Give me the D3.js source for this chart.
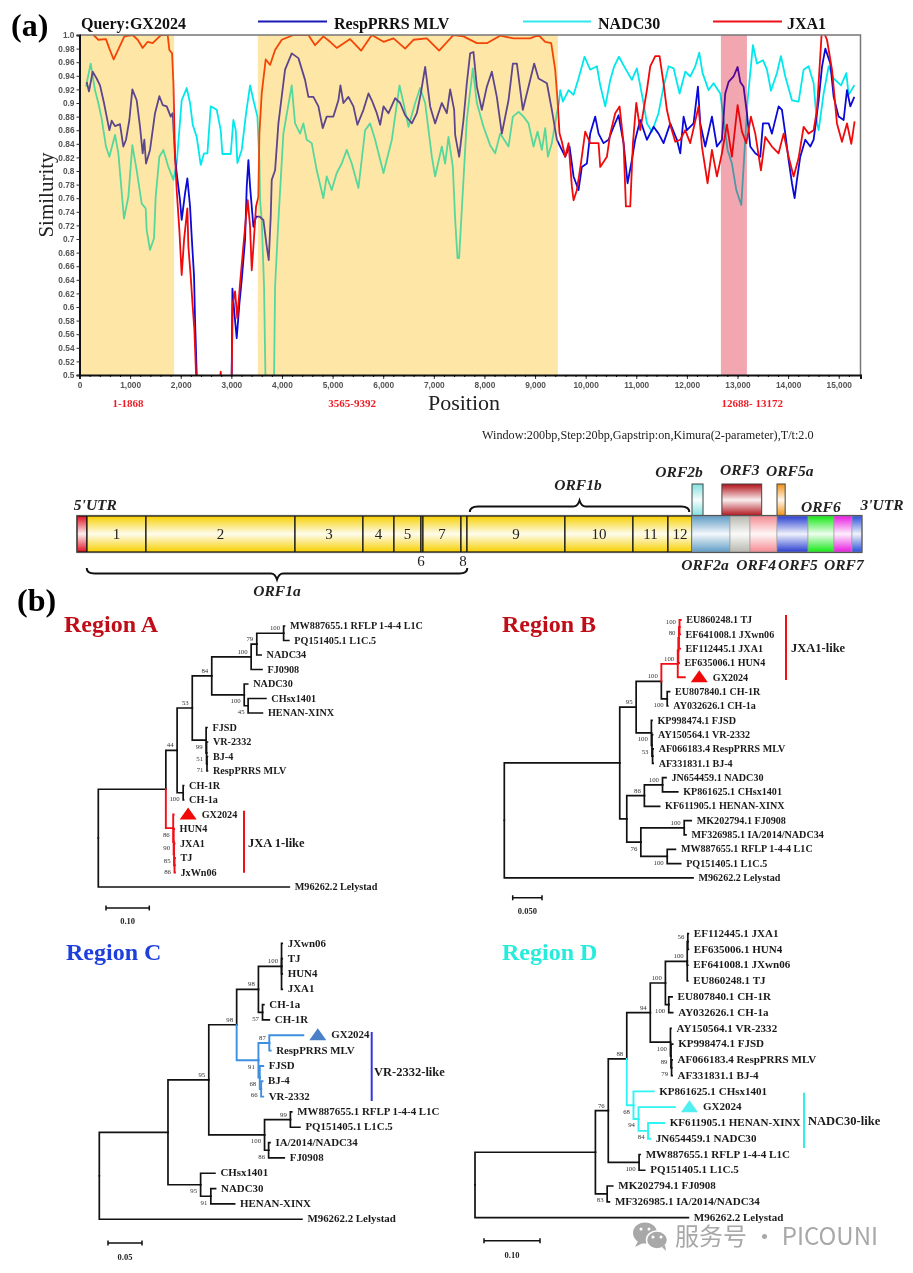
<!DOCTYPE html>
<html><head><meta charset="utf-8">
<script src="https://cdnjs.cloudflare.com/ajax/libs/d3/7.8.5/d3.min.js"></script>
<style>html,body{margin:0;background:#fff}svg{display:block;filter:blur(.35px)}</style></head>
<body><svg id="c" width="913" height="1273"></svg>
<script>
// ---------- similarity plot data: [position, similarity] ----------
const respMLV=[[142,.931],[188,.917],[260,.946],[339,.936],[405,.926],[484,.9],[537,.88],[590,.86],[636,.874],[702,.866],[800,.869],[866,.836],[919,.846],[985,.875],[1044,.92],[1130,.904],[1196,.865],[1248,.826],[1281,.846],[1314,.811],[1393,.831],[1492,.885],[1578,.91],[1644,.897],[1723,.895],[1802,.88],[1841,.885],[1887,.821],[1920,.797],[1986,.757],[2019,.728],[2085,.767],[2131,.789],[2184,.748],[2217,.703],[2263,.645],[2283,.581],[2316,.5],[2400,.45],[2980,.45],[3007,.5],[3021,.627],[3060,.591],[3106,.554],[3159,.605],[3205,.64],[3271,.699],[3304,.777],[3337,.816],[3370,.777],[3436,.718],[3488,.733],[3554,.733],[3633,.728],[3699,.689],[3739,.669],[3778,.733],[3798,.787],[3864,.801],[3930,.87],[4061,.949],[4193,.973],[4325,.966],[4456,.934],[4522,.909],[4621,.909],[4720,.895],[4805,.863],[4884,.88],[5016,.88],[5115,.904],[5155,.926],[5214,.9],[5313,.909],[5412,.895],[5491,.868],[5610,.89],[5709,.914],[5775,.904],[5874,.885],[5940,.868],[6006,.895],[6105,.885],[6237,.907],[6335,.9],[6434,.882],[6566,.87],[6664,.885],[6743,.914],[6829,.953],[6928,.895],[7026,.87],[7158,.9],[7257,.885],[7323,.92],[7402,.89],[7422,.853],[7501,.821],[7586,.875],[7652,.929],[7718,.973],[7784,.975],[7850,.924],[7949,.89],[8048,.924],[8146,.946],[8245,.909],[8344,.855],[8476,.904],[8562,.958],[8641,.958],[8759,.89],[8871,.924],[8983,.958],[9069,.936],[9234,.929],[9332,.89],[9431,.846],[9530,.831],[9596,.821],[9682,.836],[9761,.792],[9859,.772],[9925,.806],[10024,.811],[10090,.855],[10189,.88],[10255,.855],[10353,.841],[10452,.846],[10551,.865],[10650,.882],[10749,.841],[10828,.782],[10913,.816],[10979,.846],[11078,.875],[11210,.846],[11342,.865],[11440,.855],[11539,.841],[11671,.87],[11803,.846],[11869,.826],[11935,.88],[12000,.86],[12132,.87],[12218,.924],[12264,.87],[12363,.836],[12495,.88],[12593,.836],[12692,.846],[12758,.914],[12824,.931],[12923,.939],[13002,.953],[13055,.931],[13120,.924],[13186,.885],[13252,.836],[13351,.826],[13450,.821],[13503,.87],[13615,.87],[13680,.855],[13812,.895],[13878,.89],[13944,.855],[14010,.816],[14076,.782],[14128,.76],[14174,.787],[14240,.821],[14339,.846],[14438,.836],[14504,.846],[14603,.904],[14669,.953],[14735,.98],[14834,.958],[14900,.909],[14998,.88],[15097,.875],[15163,.919],[15229,.895],[15308,.909]];
const nadc30=[[128,.924],[221,.958],[306,.919],[372,.9],[438,.877],[523,.836],[590,.821],[702,.853],[768,.826],[879,.73],[965,.762],[1044,.838],[1130,.801],[1229,.752],[1308,.745],[1327,.713],[1393,.684],[1472,.701],[1505,.762],[1578,.821],[1657,.831],[1756,.806],[1855,.787],[1920,.811],[2019,.904],[2118,.922],[2184,.9],[2237,.868],[2316,.85],[2395,.809],[2461,.826],[2527,.826],[2593,.895],[2711,.89],[2790,.86],[2823,.825],[2988,.825],[3040,.875],[3087,.86],[3119,.812],[3205,.831],[3291,.885],[3370,.926],[3436,.904],[3515,.88],[3554,.816],[3568,.757],[3600,.728],[3646,.63],[3673,.5],[3760,.44],[3844,.5],[3864,.63],[3930,.728],[4028,.855],[4193,.926],[4259,.87],[4357,.855],[4423,.87],[4489,.846],[4588,.841],[4687,.801],[4818,.76],[4884,.792],[4983,.772],[5082,.797],[5181,.811],[5280,.831],[5379,.811],[5511,.775],[5643,.86],[5742,.87],[5841,.846],[6006,.797],[6171,.846],[6322,.926],[6401,.9],[6500,.865],[6632,.9],[6730,.922],[6829,.9],[6961,.821],[7026,.792],[7158,.836],[7224,.811],[7290,.85],[7376,.806],[7422,.728],[7468,.672],[7500,.672],[7586,.787],[7652,.875],[7771,.951],[7850,.9],[7982,.865],[8113,.838],[8212,.826],[8311,.855],[8476,.836],[8562,.88],[8674,.887],[8773,.88],[8871,.87],[8970,.836],[9049,.858],[9135,.831],[9201,.863],[9254,.821],[9332,.841],[9431,.885],[9471,.9],[9497,.919],[9550,.902],[9662,.919],[9761,.912],[9859,.936],[9978,.968],[10090,.949],[10222,.954],[10288,.926],[10387,.895],[10486,.934],[10564,.954],[10657,.968],[10782,.951],[10913,.934],[11012,.951],[11144,.9],[11210,.87],[11309,.858],[11440,.885],[11539,.924],[11638,.954],[11737,.951],[11856,.914],[11968,.946],[12066,.939],[12165,.954],[12244,.974],[12310,.944],[12429,.919],[12527,.929],[12659,.914],[12738,.87],[12804,.831],[12890,.811],[12976,.772],[13075,.75],[13120,.806],[13200,.904],[13305,.985],[13384,.958],[13503,.963],[13582,.949],[13661,.918],[13779,.944],[13858,.969],[13944,.939],[14076,.904],[14207,.902],[14306,.949],[14405,.954],[14504,.929],[14570,.87],[14603,.86],[14702,.914],[14801,.954],[14900,.936],[15045,.926],[15150,.944],[15196,.912],[15308,.926]];
const jxa1=[[130,1.01],[280,1],[372,.993],[523,.994],[590,.98],[675,.964],[774,.98],[886,.998],[1051,1],[1150,.993],[1248,.981],[1347,.99],[1446,.988],[1610,1],[1742,1],[1775,.978],[1829,.973],[1855,.929],[1887,.821],[1920,.772],[1973,.713],[2019,.647],[2066,.699],[2131,.745],[2151,.689],[2197,.645],[2237,.6],[2270,.566],[2303,.5],[2400,.47],[2760,.48],[2790,.505],[2820,.47],[2985,.47],[3007,.5],[3027,.605],[3073,.623],[3119,.583],[3172,.635],[3225,.679],[3284,.728],[3324,.757],[3370,.718],[3403,.654],[3436,.689],[3488,.748],[3534,.762],[3554,.855],[3600,.914],[3679,.964],[3765,.956],[3864,.978],[3996,.993],[4226,1],[4522,1],[4654,.985],[4819,.998],[4951,.99],[5082,.981],[5346,.994],[5563,.977],[5775,1],[6006,.99],[6204,.995],[6434,.98],[6598,.993],[6862,.995],[7105,.977],[7389,1],[7586,.998],[7850,.988],[8048,.988],[8311,.999],[8575,.995],[8904,.995],[9069,1],[9201,.99],[9319,.988],[9398,.949],[9444,.904],[9484,.855],[9530,.843],[9596,.821],[9662,.841],[9728,.777],[9761,.757],[9827,.772],[9906,.811],[9991,.858],[10090,.841],[10255,.841],[10288,.806],[10420,.821],[10486,.855],[10584,.885],[10670,.895],[10749,.841],[10795,.748],[10881,.748],[10934,.841],[11000,.9],[11078,.86],[11210,.919],[11276,.954],[11375,.969],[11460,.969],[11539,.929],[11605,.89],[11671,.868],[11770,.843],[11869,.846],[11968,.86],[12066,.841],[12231,.895],[12297,.836],[12409,.782],[12495,.831],[12593,.792],[12692,.826],[12791,.868],[12890,.821],[13002,.897],[13088,.858],[13174,.841],[13265,.88],[13351,.855],[13463,.801],[13549,.85],[13680,.836],[13812,.826],[13911,.855],[14010,.821],[14109,.792],[14207,.819],[14306,.865],[14405,.855],[14504,.86],[14570,.89],[14669,1.01],[14768,.993],[14867,.949],[14965,.87],[15064,.843],[15163,.87],[15248,.84],[15314,.873]];
const plotSeries=[["NADC30",nadc30,"#00e8ee"],["RespPRRS MLV",respMLV,"#0a0ad8"],["JXA1",jxa1,"#f00a0a"]];
// drawn band start, band end, band colour, label, label centre (all on the position axis)
const recombRegions=[[0,1870,"rgb(250,184,0)","1-1868",958],[3522,9451,"rgb(250,184,0)","3565-9392",5385],[12672,13186,"rgb(218,3,29)","12688- 13172",13290]];
const yMajor=d3.range(25,51).map(i=>i*.02);
const xMajor=d3.range(0,16000,1000);

// ---------- genome map data: nucleotide edges ----------
const genomeEdges=[0,196,1352,4273,5605,6213,6742,6781,7526,7644,9564,10897,11583,12054,12799,13191,13720,14328,14837,15190,15386];
const genomeNames=["","1","2","3","4","5","","7","","9","10","11","12","","","","","","",""];
const genomeColors=["#e01020","#f7d000","#f7d000","#f7d000","#f7d000","#f7d000","#f7d000","#f7d000","#f7d000","#f7d000","#f7d000","#f7d000","#f7d000","#5f9cc5","#b8b8b0","#f48a92","#2a3fd0","#14e814","#e81ce0","#2a50d8"];
const upperGenes=[["ORF2b",12054,12270,"#7fe0e0"],["ORF3",12640,13420,"#b01018"],["ORF5a",13720,13880,"#f09010"]];
const geneLabels=[["5'UTR",360,510],["ORF2b",11800,477],["ORF3",12990,475],["ORF5a",13970,476],["ORF1b",9820,490],["ORF6",14580,512],["3'UTR",15780,510],["ORF2a",12310,570],["ORF4",13310,570],["ORF5",14130,570],["ORF7",15030,570]];
const nspUnder=[["6",6742],["8",7565]];
const braces=[["ORF1a",190,7650],["ORF1b",7700,12000]];

// ---------- phylogenetic trees: branch lengths ----------
const n=(d,s,...children)=>({d,s,children});
const l=(d,name)=>({d,name});
const tint=(c,node)=>{node.tint=c;return node;};
const RED="#f01018",BLUE="#3f8fe0",CYAN="#30f4f4";

const treeA=n(0,"",
 n(.156,"",
  n(.026,"44",
   n(.035,"53",
    n(.045,"84",
     n(.091,"100",
      n(.013,"79",n(.062,"100",l(.002,"MW887655.1 RFLP 1-4-4 L1C"),l(.012,"PQ151405.1 L1C.5")),l(.010,"NADC34")),
      l(.025,"FJ0908")),
     n(.075,"100",l(.008,"NADC30"),n(.009,"45",l(.041,"CHsx1401"),l(.033,"HENAN-XINX")))),
    n(.032,"99",l(.002,"FJSD"),n(.001,"51",l(.002,"VR-2332"),n(.001,"71",l(.001,"BJ-4"),l(.001,"RespPRRS MLV"))))),
   n(.014,"100",l(.001,"CH-1R"),l(.001,"CH-1a"))),
  tint(RED,n(.017,"86",l(.001,"GX2024"),n(.001,"90",l(.001,"HUN4"),n(.001,"85",l(.001,"JXA1"),n(.001,"86",l(.001,"TJ"),l(.001,"JxWn06"))))))),
 l(.441,"M96262.2 Lelystad"));

const treeB=n(0,"",
 n(.197,"",
  n(.028,"95",
   n(.043,"100",
    tint(RED,n(.028,"100",n(.001,"",n(.001,"80",n(.001,"100",l(.002,"EU860248.1 TJ"),l(.001,"EF641008.1 JXwn06")),l(.002,"EF112445.1 JXA1")),l(.001,"EF635006.1 HUN4")),l(.012,"GX2024"))),
    n(.010,"100",l(.004,"EU807840.1 CH-1R"),l(.001,"AY032626.1 CH-1a"))),
   n(.026,"100",l(.001,"KP998474.1 FJSD"),n(.001,"53",l(.001,"AY150564.1 VR-2332"),n(.001,"",l(.001,"AF066183.4 RespPRRS MLV"),l(.001,"AF331831.1 BJ-4"))))),
  n(.012,"",
   n(.030,"86",n(.031,"100",l(.006,"JN654459.1 NADC30"),l(.026,"KP861625.1 CHsx1401")),l(.026,"KF611905.1 HENAN-XINX")),
   n(.024,"76",n(.074,"100",l(.012,"MK202794.1 FJ0908"),l(.003,"MF326985.1 IA/2014/NADC34")),n(.045,"100",l(.014,"MW887655.1 RFLP 1-4-4 L1C"),l(.023,"PQ151405.1 L1C.5"))))),
 l(.322,"M96262.2 Lelystad"));

const treeC=n(0,"",
 n(.101,"",
  n(.060,"95",
   n(.041,"98",
    n(.032,"98",
     n(.034,"100",l(.001,"JXwn06"),l(.001,"TJ"),l(.001,"HUN4"),l(.001,"JXA1")),
     n(.006,"57",l(.002,"CH-1a"),l(.010,"CH-1R"))),
    tint(BLUE,n(.032,"91",n(.016,"87",l(.050,"GX2024"),l(.002,"RespPRRS MLV")),n(.002,"68",l(.005,"FJSD"),n(.002,"66",l(.002,"BJ-4"),l(.003,"VR-2332")))))),
   n(.082,"100",n(.038,"99",l(.002,"MW887655.1 RFLP 1-4-4 L1C"),l(.014,"PQ151405.1 L1C.5")),n(.006,"86",l(.002,"IA/2014/NADC34"),l(.023,"FJ0908")))),
  n(.048,"95",l(.021,"CHsx1401"),n(.015,"91",l(.007,"NADC30"),l(.035,"HENAN-XINX")))),
 l(.298,"M96262.2 Lelystad"));

const treeD=n(0,"",
 n(.215,"",
  n(.023,"76",
   n(.033,"88",
    n(.042,"94",
     n(.027,"100",
      n(.039,"100",n(.001,"56",l(.001,"EF112445.1 JXA1"),l(.001,"EF635006.1 HUN4")),l(.001,"EF641008.1 JXwn06"),l(.001,"EU860248.1 TJ")),
      n(.006,"100",l(.006,"EU807840.1 CH-1R"),l(.007,"AY032626.1 CH-1a"))),
     n(.036,"100",l(.001,"AY150564.1 VR-2332"),n(.001,"89",l(.003,"KP998474.1 FJSD"),n(.001,"79",l(.001,"AF066183.4 RespPRRS MLV"),l(.001,"AF331831.1 BJ-4"))))),
    tint(CYAN,n(.012,"68",l(.036,"KP861625.1 CHsx1401"),n(.009,"94",l(.065,"GX2024"),n(.017,"84",l(.029,"KF611905.1 HENAN-XINX"),l(.004,"JN654459.1 NADC30")))))),
   n(.055,"100",l(.002,"MW887655.1 RFLP 1-4-4 L1C"),l(.010,"PQ151405.1 L1C.5"))),
  n(.021,"83",l(.010,"MK202794.1 FJ0908"),l(.004,"MF326985.1 IA/2014/NADC34"))),
 l(.381,"M96262.2 Lelystad"));

const panels=[
 {tree:treeA,title:"Region A",titleX:64,titleY:632,titleC:"#c00e18",rootX:98.3,px:433,y0:626,dy:14.5,font:10.2,scale:.10,scaleLabel:"0.10",barX:106,barY:908,lblY:924,tri:"#f00808",
  group:{x:244,y0:810.7,y1:872.7,c:"#f01018",text:"JXA 1-like",tx:248,ty:843}},
 {tree:treeB,title:"Region B",titleX:502,titleY:632,titleC:"#c00e18",rootX:504.3,px:586,y0:620,dy:14.33,font:10.1,scale:.05,scaleLabel:"0.050",barX:512.7,barY:897.7,lblY:914,tri:"#f00808",
  group:{x:786,y0:615,y1:680,c:"#f01018",text:"JXA1-like",tx:791,ty:647.7}},
 {tree:treeC,title:"Region C",titleX:66,titleY:960,titleC:"#1e3fdc",rootX:99.3,px:680,y0:943.3,dy:15.33,font:10.9,scale:.05,scaleLabel:"0.05",barX:108,barY:1243,lblY:1260,tri:"#4a80c8",
  group:{x:371.7,y0:1032,y1:1101,c:"#3434e0",text:"VR-2332-like",tx:374,ty:1071.7}},
 {tree:treeD,title:"Region D",titleX:502,titleY:960,titleC:"#26ecdc",rootX:475,px:560,y0:933.7,dy:15.77,font:11.05,scale:.10,scaleLabel:"0.10",barX:484,barY:1240.7,lblY:1258,tri:"#50f0f0",
  group:{x:804,y0:1092.7,y1:1148,c:"#30f0e0",text:"NADC30-like",tx:808,ty:1120.7}}
];

// ---------- drawing ----------
const SERIF="'Liberation Serif','Times New Roman',serif";
const SANS="'Liberation Sans',Arial,sans-serif";
const svg=d3.select("#c").style("font-family",SERIF);
const text=(g,x,y,s,o={})=>{const t=g.append("text").attr("x",x).attr("y",y).text(s)
  .attr("font-size",o.size||12).attr("fill",o.fill||"#111").attr("font-weight",o.bold?"bold":"normal")
  .attr("font-style",o.italic?"italic":"normal").attr("text-anchor",o.anchor||"start");
  if(o.font)t.attr("font-family",o.font); return t;};

text(svg,11,36,"(a)",{size:32,bold:true,fill:"#000"});
text(svg,17,611,"(b)",{size:32,bold:true,fill:"#000"});

// similarity plot
const x=d3.scaleLinear().domain([0,15430]).range([79.5,860.5]);
const y=d3.scaleLinear().domain([.5,1]).range([375,35]);
const defs=svg.append("defs");
defs.append("clipPath").attr("id","plotClip").append("rect").attr("x",79.5).attr("y",35).attr("width",781).attr("height",340);

const plot=svg.append("g");
const line=d3.line().x(d=>x(d[0])).y(d=>y(d[1]));
plot.append("g").attr("clip-path","url(#plotClip)").selectAll("path").data(plotSeries).join("path")
  .attr("d",d=>line(d[1])).attr("fill","none").attr("stroke",d=>d[2]).attr("stroke-width",1.8).attr("stroke-linejoin","round");
plot.append("g").selectAll("rect").data(recombRegions).join("rect")
  .attr("x",d=>x(d[0])).attr("width",d=>x(d[1])-x(d[0])).attr("y",35).attr("height",340)
  .attr("fill",d=>d[2]).attr("fill-opacity",.35);

plot.append("path").attr("d","M79.5,35H860.5V375").attr("fill","none").attr("stroke","#777").attr("stroke-width",1.5);
const fmtY=v=>{const r=Math.round(v*100)/100;return (r===1||r===.5)?r.toFixed(1):String(r);};
const yAxis=plot.append("g").attr("transform","translate(79.5,0)").call(d3.axisLeft(y).tickValues(yMajor).tickSize(3).tickFormat(fmtY));
const xAxis=plot.append("g").attr("transform","translate(0,375)").call(d3.axisBottom(x).tickValues(xMajor).tickSize(4).tickFormat(d3.format(",")));
plot.append("g").attr("transform","translate(0,375)").call(d3.axisBottom(x).tickValues(d3.range(0,15400,200)).tickSize(2).tickFormat(""))
  .call(g=>g.select(".domain").remove());
[yAxis,xAxis].forEach(a=>{a.select(".domain").attr("stroke","#111").attr("stroke-width",2);
  a.selectAll("line").attr("stroke","#333");
  a.selectAll("text").attr("font-family",SANS).attr("font-size",8.3).attr("fill","#555").attr("font-weight","bold");});
yAxis.selectAll("text").attr("x",-5);
xAxis.selectAll("text").attr("y",7);

// plot header + legend
text(svg,81,29,"Query:GX2024",{size:16,bold:true,fill:"#111"});
const legendItems=[["RespPRRS MLV","#1a1ab4",258,327,334],["NADC30","#30e8ee",523,591,598],["JXA1","#f01018",713,782,787]];
legendItems.forEach(([t,c,a,b,tx])=>{svg.append("line").attr("x1",a).attr("x2",b).attr("y1",21.5).attr("y2",21.5).attr("stroke",c).attr("stroke-width",2);
  text(svg,tx,29,t,{size:16,bold:true});});
text(svg,53,195,"Similurity",{size:21,anchor:"middle",fill:"#222"}).attr("transform","rotate(-90 53 195)");
text(svg,464,410,"Position",{size:22,anchor:"middle",fill:"#222"});
recombRegions.forEach(d=>text(svg,x(d[4]),407,d[3],{size:11,bold:true,fill:"#ee1c25",anchor:"middle"}));
text(svg,482,439,"Window:200bp,Step:20bp,Gapstrip:on,Kimura(2-parameter),T/t:2.0",{size:12.2,fill:"#222"});

// genome map
const gx=d3.scaleLinear().domain([0,15386]).range([77,862]);
const colorSet=[...new Set(genomeColors.concat(upperGenes.map(d=>d[3])))];
colorSet.forEach((c,i)=>{const g=defs.append("linearGradient").attr("id","gr"+i).attr("x1",0).attr("x2",0).attr("y1",0).attr("y2",1);
  g.append("stop").attr("offset",0).attr("stop-color",c);
  g.append("stop").attr("offset",.5).attr("stop-color",d3.interpolateRgb(c,"#fff")(.93));
  g.append("stop").attr("offset",1).attr("stop-color",c);});
const grad=c=>"url(#gr"+colorSet.indexOf(c)+")";
const gm=svg.append("g");
gm.selectAll("rect.up").data(upperGenes).join("rect").attr("class","up")
  .attr("x",d=>gx(d[1])).attr("width",d=>gx(d[2])-gx(d[1])).attr("y",484).attr("height",32)
  .attr("fill",d=>grad(d[3])).attr("stroke","#444").attr("stroke-width",1);
gm.selectAll("rect.seg").data(d3.pairs(genomeEdges)).join("rect").attr("class","seg")
  .attr("x",d=>gx(d[0])).attr("width",d=>gx(d[1])-gx(d[0])).attr("y",516).attr("height",36)
  .attr("fill",(d,i)=>grad(genomeColors[i])).attr("stroke",(d,i)=>i>=13?"#999":"#111").attr("stroke-width",(d,i)=>i>=13?.6:1.2);
gm.append("rect").attr("x",gx(0)).attr("y",515.5).attr("width",gx(15386)-gx(0)).attr("height",37).attr("fill","none").attr("stroke","#555").attr("stroke-width",1.2);
d3.pairs(genomeEdges).forEach((d,i)=>{if(genomeNames[i])text(gm,(gx(d[0])+gx(d[1]))/2,539,genomeNames[i],{size:15,anchor:"middle",fill:"#222"});});
nspUnder.forEach(d=>text(gm,gx(d[1]),566,d[0],{size:15,anchor:"middle",fill:"#222"}));
geneLabels.forEach(d=>text(gm,gx(d[1]),d[2],d[0],{size:15.5,bold:true,italic:true,anchor:"middle",fill:"#222"}));
const brace=(a,b,yb,dir)=>{const m=(a+b)/2,h=5.5*dir,t=6*dir;
  return `M${a},${yb}Q${a},${yb+h} ${a+8},${yb+h}L${m-6},${yb+h}Q${m-2},${yb+h} ${m},${yb+h+t}Q${m+2},${yb+h} ${m+6},${yb+h}L${b-8},${yb+h}Q${b},${yb+h} ${b},${yb}`;};
gm.append("path").attr("d",brace(gx(braces[0][1]),gx(braces[0][2]),568,1)).attr("fill","none").attr("stroke","#111").attr("stroke-width",2);
gm.append("path").attr("d",brace(gx(braces[1][1]),gx(braces[1][2]),512,-1)).attr("fill","none").attr("stroke","#111").attr("stroke-width",2);
text(gm,(gx(braces[0][1])+gx(braces[0][2]))/2,596,braces[0][0],{size:15.5,bold:true,italic:true,anchor:"middle",fill:"#222"});

// trees
panels.forEach(p=>{
  const g=svg.append("g");
  text(g,p.titleX,p.titleY,p.title,{size:24,bold:true,fill:p.titleC});
  const root=d3.hierarchy(p.tree);
  const leaves=root.leaves();
  const rowY=d3.scaleLinear().domain([0,1]).range([p.y0,p.y0+p.dy]);
  const bx=d3.scaleLinear().domain([0,1]).range([p.rootX,p.rootX+p.px]);
  root.each(nd=>{nd.dist=(nd.parent?nd.parent.dist:0)+(nd.data.d||0);nd.tint=nd.data.tint||(nd.parent&&nd.parent.tint)||null;nd.px=bx(nd.dist);});
  leaves.forEach((lf,i)=>lf.py=rowY(i));
  root.eachAfter(nd=>{if(nd.children)nd.py=(nd.children[0].py+nd.children[nd.children.length-1].py)/2;});
  const links=root.descendants().filter(d=>d.parent).sort((a,b)=>(a.tint?1:0)-(b.tint?1:0));
  g.selectAll("path.br").data(links).join("path").attr("class","br")
    .attr("d",d=>`M${d.parent.px},${d.parent.py}V${d.py}H${d.px}`)
    .attr("fill","none").attr("stroke",d=>d.tint||"#111")
    .attr("stroke-width",d=>d.tint?1.9:1.7).attr("stroke-linecap","square");
  root.descendants().forEach(nd=>{if(nd.children&&nd.data.s&&nd.parent){
    const lower=nd.parent.children[nd.parent.children.length-1]===nd;
    text(g,nd.px-3.5,nd.py+(lower?8.5:-3),nd.data.s,{size:6.8,anchor:"end",fill:"#333"});}});
  leaves.forEach(lf=>{
    const isQ=lf.data.name==="GX2024";
    if(isQ){const c=lf.px+14.5,yy=lf.py;
      g.append("path").attr("d",`M${c-8.5},${yy+5}L${c},${yy-7}L${c+8.5},${yy+5}Z`).attr("fill",p.tri);}
    text(g,lf.px+(isQ?28:5.5),lf.py+3.2,lf.data.name,{size:p.font,bold:true,fill:"#1a1a1a"});
  });
  const w=bx(p.scale)-bx(0);
  g.append("path").attr("d",`M${p.barX},${p.barY-2.5}v5M${p.barX},${p.barY}h${w}M${p.barX+w},${p.barY-2.5}v5`).attr("fill","none").attr("stroke","#111").attr("stroke-width",1.5);
  text(g,p.barX+w/2,p.lblY,p.scaleLabel,{size:8.5,bold:true,anchor:"middle",fill:"#222"});
  g.append("line").attr("x1",p.group.x).attr("x2",p.group.x).attr("y1",p.group.y0).attr("y2",p.group.y1).attr("stroke",p.group.c).attr("stroke-width",2);
  text(g,p.group.tx,p.group.ty+4,p.group.text,{size:12.5,bold:true,fill:"#1a1a1a"});
});

// watermark
const wm=svg.append("g").attr("fill","#a8a8a8");
wm.append("ellipse").attr("cx",645).attr("cy",1233).attr("rx",12).attr("ry",10.5);
wm.append("path").attr("d","M638,1241l-3,6l8,-4Z");
wm.append("ellipse").attr("cx",657).attr("cy",1240).attr("rx",10.5).attr("ry",9).attr("stroke","#fff").attr("stroke-width",1.5);
wm.append("path").attr("d","M662,1247l4,4l-1,-6Z");
[[641,1229],[649,1229],[653,1237],[661,1237]].forEach(c=>wm.append("circle").attr("cx",c[0]).attr("cy",c[1]).attr("r",1.5).attr("fill","#fff"));
text(svg,675,1245,"服务号 · PICOUNI",{size:24,fill:"#a8a8a8",font:"'Noto Sans CJK SC','Noto Sans',sans-serif"});
</script></body></html>
